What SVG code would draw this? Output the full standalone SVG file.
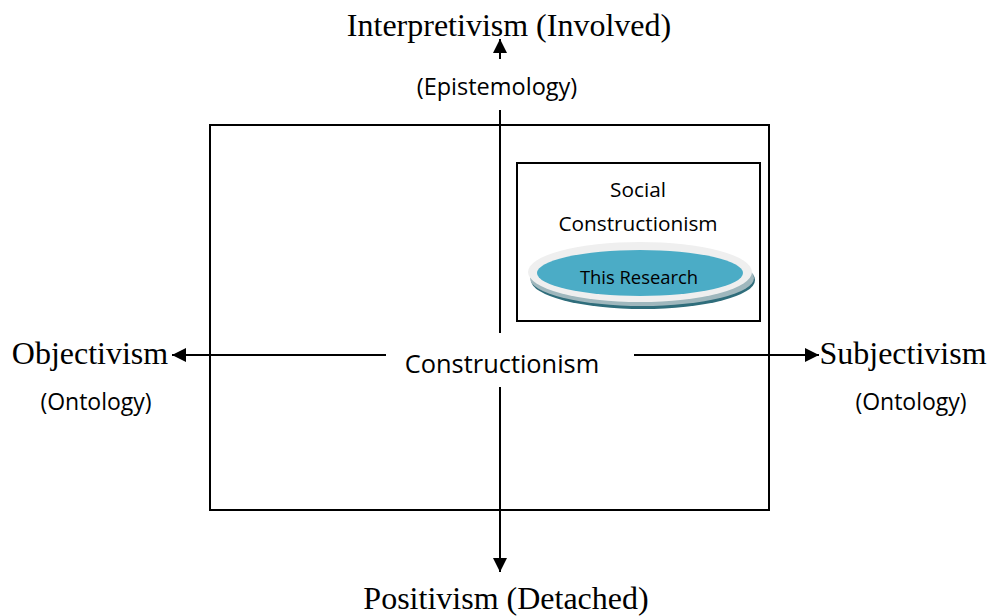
<svg xmlns="http://www.w3.org/2000/svg" width="995" height="616" viewBox="0 0 995 616">
<style>
.serif{font-family:"Liberation Serif","Times New Roman",serif;font-size:32px;fill:#000}
.sans{font-family:"Open Sans","Liberation Sans",sans-serif;fill:#000}
.box{fill:none;stroke:#000;stroke-width:2}
.ax{fill:none;stroke:#000;stroke-width:2}
</style>
<defs>
<marker id="ah" viewBox="0 0 10 10" refX="10" refY="5" markerWidth="8" markerHeight="7" orient="auto" markerUnits="strokeWidth">
<path d="M0,0 L10,5 L0,10 z" fill="#000"/>
</marker>
</defs>
<rect width="995" height="616" fill="#fff"/>
<g id="frame">
<rect class="box" x="210" y="125" width="559" height="385"/>
</g>
<g id="connectors">
<path class="ax" d="M500 110 V333"/>
<path class="ax" d="M500 59 V39" marker-end="url(#ah)"/>
<path class="ax" d="M500 387 V572" marker-end="url(#ah)"/>
<path class="ax" d="M386 355 H172" marker-end="url(#ah)"/>
<path class="ax" d="M634 355 H819" marker-end="url(#ah)"/>
</g>
<g id="interpretivism">
<text class="serif" x="509" y="36" text-anchor="middle">Interpretivism (Involved)</text>
<text class="sans" x="497" y="95" font-size="23.5" text-anchor="middle">(Epistemology)</text>
</g>
<g id="positivism">
<text class="serif" x="506" y="609" text-anchor="middle">Positivism (Detached)</text>
</g>
<g id="objectivism">
<text class="serif" x="90" y="364" text-anchor="middle">Objectivism</text>
<text class="sans" x="96" y="410" font-size="23" text-anchor="middle">(Ontology)</text>
</g>
<g id="subjectivism">
<text class="serif" x="903" y="364" text-anchor="middle">Subjectivism</text>
<text class="sans" x="911" y="410" font-size="23" text-anchor="middle">(Ontology)</text>
</g>
<g id="constructionism">
<text class="sans" x="502" y="373" font-size="25.4" text-anchor="middle">Constructionism</text>
</g>
<g id="social-constructionism">
<rect class="box" x="517" y="163" width="243" height="158"/>
<text class="sans" x="638" y="197" font-size="20.8" text-anchor="middle">Social</text>
<text class="sans" x="638" y="231" font-size="20.8" text-anchor="middle">Constructionism</text>
</g>
<g id="this-research">
<ellipse cx="643" cy="280" rx="112" ry="29" fill="#2f6d7b"/>
<ellipse cx="642" cy="278" rx="112" ry="28" fill="#9fb7bd"/>
<ellipse cx="640" cy="272" rx="112" ry="30" fill="#efefef"/>
<ellipse cx="640" cy="273" rx="103" ry="23" fill="#4bacc6"/>
<text class="sans" x="639" y="284" font-size="18.4" text-anchor="middle">This Research</text>
</g>
</svg>
